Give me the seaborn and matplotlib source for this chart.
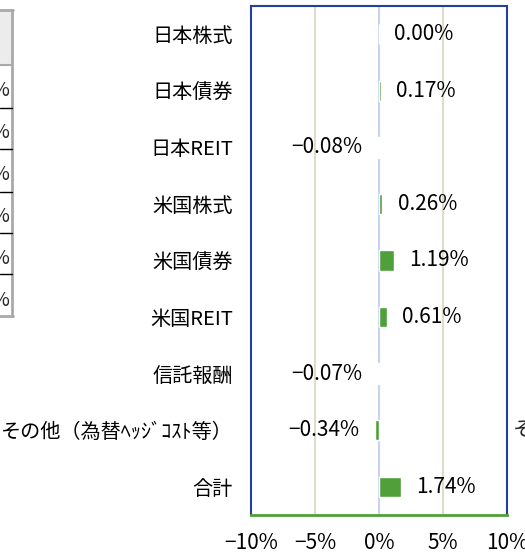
import matplotlib
matplotlib.use('Agg')
import matplotlib.pyplot as plt
import seaborn as sns
import pandas as pd
from matplotlib.patches import Rectangle
from matplotlib.lines import Line2D

# data
categories = ['日本株式', '日本債券', '日本REIT', '米国株式', '米国債券', '米国REIT',
              '信託報酬', 'その他（為替ﾍｯｼﾞｺｽﾄ等）', '合計']
values = [0.00, 0.17, -0.08, 0.26, 1.19, 0.61, -0.07, -0.34, 1.74]
xticks = [-10, -5, 0, 5, 10]

W, H = 525, 556
sns.set_theme(style='white')
plt.rcParams['font.family'] = ['Noto Sans CJK JP', 'DejaVu Sans']


def fx(px):
    return px / W


def fy(py):
    return 1 - py / H


def pct(v):
    s = f"{abs(v):.2f}%"
    return ('\u2212' + s) if v < 0 else s


fig = plt.figure(figsize=(W / 100, H / 100), dpi=100)
ax = fig.add_axes([fx(251), fy(515), (507 - 251) / W, (515 - 6) / H])

df = pd.DataFrame({'cat': categories, 'val': values})
sns.barplot(data=df, x='val', y='cat', orient='h', color='#4f9f3a', saturation=1,
            width=0.36, ax=ax, zorder=3)

ax.bar_label(ax.containers[0], labels=[pct(v) for v in values],
             padding=11, fontsize=15, color='black')

# grid lines
for t in [-5, 5]:
    ax.axvline(t, color='#e0dccb', lw=1.5, zorder=1)
ax.axvline(0, color='#c9d3f1', lw=1.5, zorder=1)

ax.set_xlim(-10, 10)
ax.set_ylim(len(categories) - 0.5, -0.5)
ax.set_xticks(xticks)
ax.set_xticklabels([f"{t}%".replace('-', '\u2212') for t in xticks], fontsize=15)
ax.tick_params(axis='y', labelsize=14.5, length=0, pad=13, labelcolor='black')
ax.tick_params(axis='x', length=0, pad=12, labelcolor='black')
ax.set_xlabel('')
ax.set_ylabel('')

for side in ['left', 'top', 'right']:
    ax.spines[side].set_color('#23409a')
    ax.spines[side].set_linewidth(1.5)
ax.spines['bottom'].set_color('#4f9f3a')
ax.spines['bottom'].set_linewidth(2)

# partial table on the left edge
fig.add_artist(Rectangle((fx(-2), fy(65)), fx(14), (65 - 10) / H,
                         transform=fig.transFigure, facecolor='#ececec', edgecolor='none'))
gray = '#a9a9a9'
fig.add_artist(Line2D([fx(0), fx(13)], [fy(10), fy(10)], color=gray, lw=2))
fig.add_artist(Line2D([fx(12), fx(12)], [fy(10), fy(316)], color=gray, lw=2))
fig.add_artist(Line2D([fx(0), fx(13)], [fy(316), fy(316)], color=gray, lw=2))
fig.add_artist(Line2D([fx(0), fx(12)], [fy(65), fy(65)], color=gray, lw=1.5))
for yy in [108, 149, 192, 233, 274]:
    fig.add_artist(Line2D([fx(0), fx(12)], [fy(yy), fy(yy)], color='black', lw=1))
for yy in [91, 132, 175, 216, 258, 300]:
    fig.text(fx(9), fy(yy), '%', fontsize=14, ha='right', va='center')

# cut-off label of the neighbouring chart
fig.text(fx(513), fy(430), 'その他（為替ﾍｯｼﾞｺｽﾄ等）', fontsize=15, ha='left', va='center')

fig.savefig('out.png', dpi=100)
